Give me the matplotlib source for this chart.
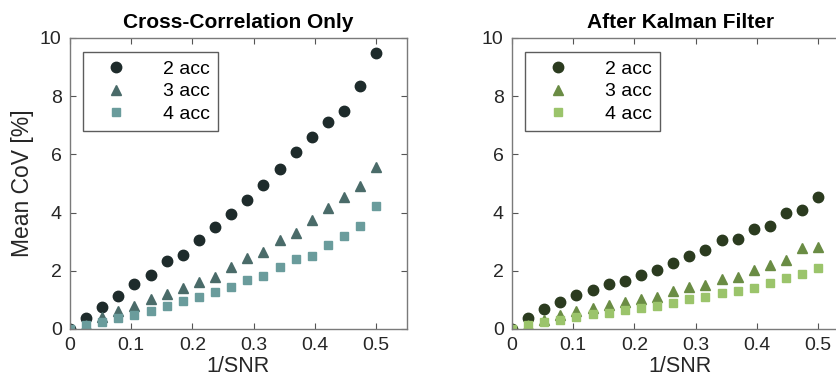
import numpy as np
import matplotlib
matplotlib.use("Agg")
import matplotlib.pyplot as plt

plt.rcParams['font.family'] = ['Liberation Sans', 'DejaVu Sans']

# 1/SNR values (20 points)
inv_snr = np.linspace(0, 0.5, 20)

# Cross-correlation only
cc_2acc = [0, 0.37, 0.75, 1.14, 1.53, 1.87, 2.33, 2.53, 3.05, 3.52,
           3.95, 4.42, 4.95, 5.50, 6.08, 6.58, 7.12, 7.49, 8.35, 9.47]
cc_3acc = [0, 0.14, 0.40, 0.60, 0.80, 1.02, 1.19, 1.40, 1.62, 1.78,
           2.12, 2.45, 2.65, 3.04, 3.31, 3.75, 4.17, 4.52, 4.92, 5.58]
cc_4acc = [0, 0.12, 0.23, 0.39, 0.48, 0.62, 0.78, 0.95, 1.11, 1.26,
           1.43, 1.69, 1.83, 2.12, 2.40, 2.50, 2.88, 3.19, 3.54, 4.24]

# After Kalman filter
kf_2acc = [0, 0.37, 0.68, 0.94, 1.17, 1.35, 1.55, 1.64, 1.85, 2.03,
           2.28, 2.51, 2.71, 3.04, 3.10, 3.44, 3.53, 4.00, 4.10, 4.55]
kf_3acc = [0, 0.14, 0.31, 0.47, 0.60, 0.73, 0.83, 0.91, 1.04, 1.09,
           1.32, 1.43, 1.51, 1.71, 1.80, 2.03, 2.21, 2.37, 2.79, 2.83]
kf_4acc = [0, 0.12, 0.23, 0.31, 0.41, 0.52, 0.54, 0.64, 0.72, 0.78,
           0.88, 1.04, 1.09, 1.25, 1.31, 1.41, 1.58, 1.74, 1.88, 2.09]

labels = ['2 acc', '3 acc', '4 acc']
cc_colors = ['#1e2b2b', '#4a6b69', '#6a9c9c']
kf_colors = ['#2b3b1f', '#6a8c44', '#9bc46b']
markers = ['o', '^', 's']
sizes = [7.5, 7.5, 6]

fig = plt.figure(figsize=(8.36, 3.87), dpi=100)
ax1 = fig.add_axes([0.0837, 0.150, 0.403, 0.752])
ax2 = fig.add_axes([0.6124, 0.150, 0.403, 0.752])


def draw(ax, series, colors, title):
    for ys, c, m, s, lab in zip(series, colors, markers, sizes, labels):
        ax.plot(inv_snr, ys, linestyle='none', marker=m, markersize=s,
                color=c, markeredgecolor=c, label=lab)
    ax.set_xlim(0, 0.55)
    ax.set_ylim(0, 10)
    ax.set_xticks([0, 0.1, 0.2, 0.3, 0.4, 0.5])
    ax.set_xticklabels(['0', '0.1', '0.2', '0.3', '0.4', '0.5'])
    ax.set_yticks([0, 2, 4, 6, 8, 10])
    ax.tick_params(direction='in', top=True, right=True, length=4,
                   color='#555555', labelsize=14, labelcolor='#262626', pad=6)
    for sp in ax.spines.values():
        sp.set_color('#7a7a7a')
        sp.set_linewidth(1.0)
    ax.set_xlabel('1/SNR', fontsize=15.5, color='#262626', labelpad=1)
    ax.set_title(title, fontsize=15, fontweight='bold',
                 family=['Liberation Sans Narrow', 'DejaVu Sans Condensed',
                         'Liberation Sans'], pad=7)
    leg = ax.legend(loc='upper left', bbox_to_anchor=(0.04, 0.95),
                    fontsize=14, frameon=True, fancybox=False,
                    handletextpad=1.2, borderpad=0.4, labelspacing=0.25,
                    handlelength=2.5, borderaxespad=0)
    leg.get_frame().set_edgecolor('#333333')
    leg.get_frame().set_linewidth(1.0)


draw(ax1, [cc_2acc, cc_3acc, cc_4acc], cc_colors, 'Cross-Correlation Only')
draw(ax2, [kf_2acc, kf_3acc, kf_4acc], kf_colors, 'After Kalman Filter')
ax1.set_ylabel('Mean CoV [%]', fontsize=16.5, color='#262626', labelpad=4)

fig.savefig('out.png', dpi=100)
